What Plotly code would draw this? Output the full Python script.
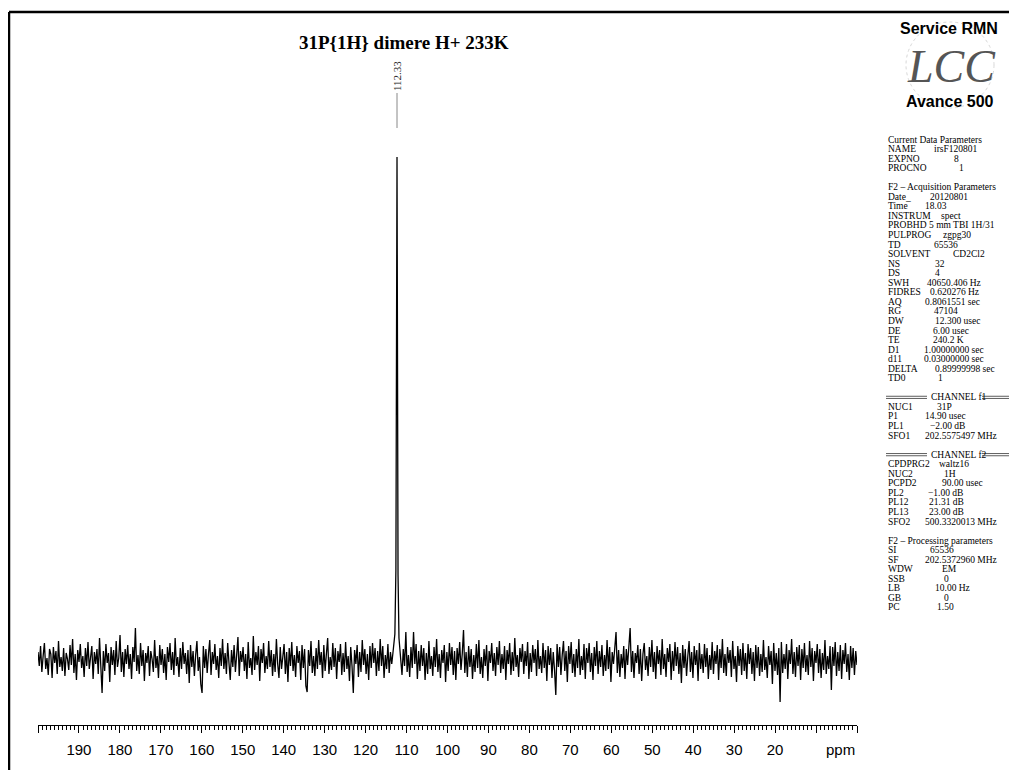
import numpy as np
import plotly.graph_objects as go

# ---------------- data ----------------
noise = [
    8, -6, 14, -12, 4, 17, -9, 2, -15, 11, 6, -18, 13, -3, 9, -14, 19, -7, 3, -11,
    12, -16, 7, 1, -10, 15, -5, 21, -13, 6, -20, 10, -2, 16, -8, 4, -17, 12, -6, 18,
    -9, 3, 14, -19, 8, -4, 11, -14, 22, -6, -33, 9, -11, 16, -3, 7, -22, 13, -5, 10,
    -15, 19, -7, 2, 25, -12, 8, -17, 11, -4, 15, -9, 6, -19, 13, -2, 32, -11, 5, -14,
    17, -6, 10, -21, 7, -3, 14, -16, 9, 1, -12, 20, -8, 4, -18, 15, -5, 11, -13, 6,
    -20, 13, -2, 17, -10, 8, -15, 22, -6, 3, -17, 12, -9, 18, -4, 7, -14, 10, -23, 15,
    -7, 9, -16, 5, 19, -11, 3, -24, -33, 14, -8, 11, -13, 6, 20, -15, 8, -4, 16, -10,
    4, -18, 12, -6, 21, -9, 7, -14, 17, -3, -20, 10, -7, 15, -12, 5, 23, -16, 9, -2,
    13, -11, 6, -19, 18, -8, 2, -15, 24, -10, 8, -5, 14, -21, 11, -3, 17, -13, 4, -9,
    19, -7, 10, -16, 6, -12, 21, -4, -18, 13, -9, 3, 16, -14, 8, -22, 12, -6, 18, -11,
    5, -17, 14, -3, 9, -20, 15, -8, 11, -26, -32, 10, -6, 19, -13, 4, -16, 12, -9, 20,
    -5, 8, -18, 15, -11, 6, 22, -14, 3, -10, 17, -7, 12, -19, 9, -2, 16, -15, 7, -12,
    18, -9, 4, -21, 13, -6, -33, 10, -4, 15, -17, 8, -12, 20, -5, 11, -14, 6, -20, 14,
    -8, 17, -3, 12, -16, 9, -11, 21, -6, 14, -18, 5, -9, 16, -13, 8, -4, 18, 10, 15,
    22, 14, -10, 8, -15, 11, -6, 28, -12, 5, -17, 13, -8, 28, -4, 16, -19, 9, -11, 15,
    -6, 12, -20, 7, -14, 19, -9, 4, -16, 13, -7, 21, -12, 6, -18, 10, -3, 15, -22, 8,
    -11, 17, -5, 13, -15, 9, -20, 12, -4, 18, -10, 6, 30, -13, 8, -17, 14, -7, 11, -19,
    5, -12, 16, -8, 20, -14, 3, -18, 11, -6, 15, -21, 9, -3, 17, -11, 7, -16, 13, -5,
    19, -13, 6, -9, 14, -20, 10, -4, 17, -15, 8, -11, 22, -7, 5, -17, 12, -2, 16, -14,
    9, -6, 18, -19, 7, -12, 15, -3, 11, -16, 20, -9, 4, -13, 17, -8, 10, -21, 14, -5,
    12, -18, 8, -10, -35, 16, -7, 13, -15, 5, 19, -11, 9, -22, 14, -4, 18, -13, 6, -17,
    11, -8, 21, -15, 4, -10, 16, -19, 12, -3, 17, -12, 7, -20, 13, -6, 19, -14, 9, -7,
    15, -16, 5, -11, 20, -9, 13, -22, 8, -4, 18, 28, -13, 10, -17, 6, -8, 14, -19, 11,
    -5, 16, 32, -12, 9, -18, 7, -3, 15, -14, 11, -21, 6, 17, -10, 4, -16, 13, -7, 20,
    -12, 8, -19, 14, -4, 10, -15, 21, -9, 6, -17, 12, -2, 16, -20, 9, -11, 18, -6, 13,
    -14, 7, -23, 15, -8, 11, -16, 4, 19, -12, 8, -18, 14, -5, 10, -21, 17, -9, 6, -13,
    16, -7, 12, -19, 5, -10, 18, -14, 9, -4, 15, -20, 11, -8, 21, -13, 6, -16, 13, -3,
    10, -17, 19, -9, 4, -22, 14, -6, 11, -15, 17, -11, 7, -19, 16, -4, 12, -14, 8, -21,
    15, -8, 13, -16, 6, -12, 20, -10, 3, -18, 14, -5, 9, -24, 17, -11, 7, -15, 12, -42,
    18, -13, 6, -9, 16, -19, 10, -4, 21, -14, 8, -17, 13, -6, 15, -20, 11, -8, 17, -12,
    5, -15, 19, -7, 12, -21, 9, -3, 16, -13, 11, -18, 7, -10, 20, -14, 4, -9, 14, -30,
    13, -6, 18, -16, 8, -11, 15, -19, 10, -4, 17, -12, 6, -20, 14, -8, 12, -15, 9, -5,
]
peak_ppm = [113.2, 112.85, 112.6, 112.45, 112.33, 112.22, 112.08, 111.85, 111.5]
peak_int = [12, 26, 90, 330, 503, 320, 85, 22, 4]
peak_label = "112.33"

tick_values = list(range(200, -1, -10))
tick_labels = ["", "190", "180", "170", "160", "150", "140", "130", "120", "110",
               "100", "90", "80", "70", "60", "50", "40", "30", "20", "", ""]

title_text = "31P{1H} dimere H+ 233K"

param_labels = [
    "Current Data Parameters", "NAME", "EXPNO", "PROCNO", "",
    "F2 \u2013 Acquisition Parameters", "Date_", "Time", "INSTRUM", "PROBHD",
    "PULPROG", "TD", "SOLVENT", "NS", "DS", "SWH", "FIDRES", "AQ", "RG", "DW",
    "DE", "TE", "D1", "d11", "DELTA", "TD0", "",
    "CHANNEL f1", "NUC1", "P1", "PL1", "SFO1", "",
    "CHANNEL f2", "CPDPRG2", "NUC2", "PCPD2", "PL2", "PL12", "PL13", "SFO2", "",
    "F2 \u2013 Processing parameters", "SI", "SF", "WDW", "SSB", "LB", "GB", "PC",
]
param_values = [
    "", "irsF120801", "8", "1", "",
    "", "20120801", "18.03", "spect", "5 mm TBI 1H/31",
    "zgpg30", "65536", "CD2Cl2", "32", "4", "40650.406 Hz", "0.620276 Hz",
    "0.8061551 sec", "47104", "12.300 usec",
    "6.00 usec", "240.2 K", "1.00000000 sec", "0.03000000 sec", "0.89999998 sec", "1", "",
    "", "31P", "14.90 usec", "\u22122.00 dB", "202.5575497 MHz", "",
    "", "waltz16", "1H", "90.00 usec", "\u22121.00 dB", "21.31 dB", "23.00 dB",
    "500.3320013 MHz", "",
    "", "65536", "202.5372960 MHz", "EM", "0", "10.00 Hz", "0", "1.50",
]
# left edge (page px) of each value text
value_x = [
    0, 932, 952, 957, 0,
    0, 928, 923, 939, 927,
    941, 932, 951, 933, 933, 925, 928, 923, 932, 933,
    931, 931, 922, 922, 933, 936, 0,
    0, 935, 923, 928, 923, 0,
    0, 937, 942, 940, 926, 927, 927, 923, 0,
    0, 928, 923, 940, 942, 933, 942, 935,
]

# ---------------- geometry ----------------
OFF = 8                      # page body margin in the browser
W, H = 1017 - OFF, 770 - OFF
L, R, T, B = 38 - OFF, 160, 100 - OFF, 45
PW, PH = W - L - R, H - T - B


def px(x):
    return (x - OFF - L) / PW


def py(y):
    return (H - B - (y - OFF)) / PH


# ---------------- spectrum ----------------
noise_ppm = np.linspace(200, 0, len(noise))
noise_arr = np.array(noise, dtype=float)
keep = np.abs(noise_ppm - 112.33) > 1.0
xs = np.concatenate([noise_ppm[keep], np.array(peak_ppm)])
ys = np.concatenate([noise_arr[keep], np.array(peak_int, dtype=float)])
order = np.argsort(-xs)
xs, ys = xs[order], ys[order]

fig = go.Figure()
fig.add_trace(go.Scatter(x=xs, y=ys, mode="lines",
                         line=dict(color="black", width=1.3), hoverinfo="skip"))

shapes = []
ann = []

# frame lines
shapes.append(dict(type="line", xref="paper", yref="paper",
                   x0=px(9), x1=px(1017), y0=py(12), y1=py(12),
                   line=dict(color="black", width=2.5)))
shapes.append(dict(type="line", xref="paper", yref="paper",
                   x0=px(9), x1=px(9), y0=py(12), y1=py(770),
                   line=dict(color="black", width=2.5)))

# peak label + leader
ann.append(dict(x=112.33, xref="x", y=py(76), yref="paper", text=peak_label,
                textangle=-90, showarrow=False, xanchor="center", yanchor="middle",
                font=dict(family="Liberation Serif", size=11, color="#222")))
shapes.append(dict(type="line", xref="x", yref="paper", x0=112.33, x1=112.33,
                   y0=py(93), y1=py(128), line=dict(color="#888", width=1)))

# title
ann.append(dict(x=px(404), y=py(42), xref="paper", yref="paper", text=title_text,
                showarrow=False, xanchor="center", yanchor="middle",
                font=dict(family="Liberation Serif", size=19, color="black", weight="bold")))

# ppm unit
ann.append(dict(x=4, xref="x", y=py(749), yref="paper", text="ppm", showarrow=False,
                xanchor="center", yanchor="middle",
                font=dict(family="Liberation Sans", size=15, color="black")))

# logo
shapes.append(dict(type="circle", xref="paper", yref="paper",
                   x0=px(906), x1=px(994), y0=py(22), y1=py(108),
                   line=dict(color="#d8d8d8", width=1, dash="dot")))
ann.append(dict(x=px(949), y=py(28), xref="paper", yref="paper", text="Service RMN",
                showarrow=False, xanchor="center", yanchor="middle",
                font=dict(family="Liberation Sans", size=16, color="black", weight="bold")))
ann.append(dict(x=px(951), y=py(66), xref="paper", yref="paper", text="<i>LCC</i>",
                showarrow=False, xanchor="center", yanchor="middle",
                font=dict(family="Liberation Serif", size=46, color="#555555")))
ann.append(dict(x=px(950), y=py(102), xref="paper", yref="paper", text="Avance 500",
                showarrow=False, xanchor="center", yanchor="middle",
                font=dict(family="Liberation Sans", size=16, color="black", weight="bold")))

# parameter text block
y0, dy = 139.5, 9.55
tfont = dict(family="Liberation Serif", size=9.5, color="black")
for i, (lab, val, vx) in enumerate(zip(param_labels, param_values, value_x)):
    yy = y0 + i * dy
    if not lab:
        continue
    if lab.startswith("CHANNEL"):
        ann.append(dict(x=px(929), y=py(yy), xref="paper", yref="paper", text=lab,
                        showarrow=False, xanchor="left", yanchor="middle", font=tfont))
        for (a, b) in [(886, 927), (982, 1016)]:
            for off in (-1.1, 1.1):
                shapes.append(dict(type="line", xref="paper", yref="paper",
                                   x0=px(a), x1=px(b), y0=py(yy + off), y1=py(yy + off),
                                   line=dict(color="#333", width=0.8)))
        continue
    ann.append(dict(x=px(886), y=py(yy), xref="paper", yref="paper", text=lab,
                    showarrow=False, xanchor="left", yanchor="middle", font=tfont))
    if val:
        ann.append(dict(x=px(vx), y=py(yy), xref="paper", yref="paper", text=val,
                        showarrow=False, xanchor="left", yanchor="middle", font=tfont))

fig.update_layout(
    width=W, height=H,
    margin=dict(l=L, r=R, t=T, b=B, pad=0),
    paper_bgcolor="white", plot_bgcolor="white",
    showlegend=False,
    shapes=shapes, annotations=ann,
    xaxis=dict(range=[200, 0], tickmode="array", tickvals=tick_values, ticktext=tick_labels,
               ticks="outside", ticklen=7, tickwidth=1, tickcolor="black",
               showline=True, linecolor="black", linewidth=1,
               showgrid=False, zeroline=False, ticklabelstandoff=4,
               tickfont=dict(family="Liberation Sans", size=15, color="black"),
               minor=dict(tick0=0, dtick=1, ticks="outside", ticklen=4, tickwidth=1,
                          tickcolor="black", showgrid=False)),
    yaxis=dict(visible=False, range=[-65, 560], showgrid=False, zeroline=False),
)

fig.write_html("out.html")
